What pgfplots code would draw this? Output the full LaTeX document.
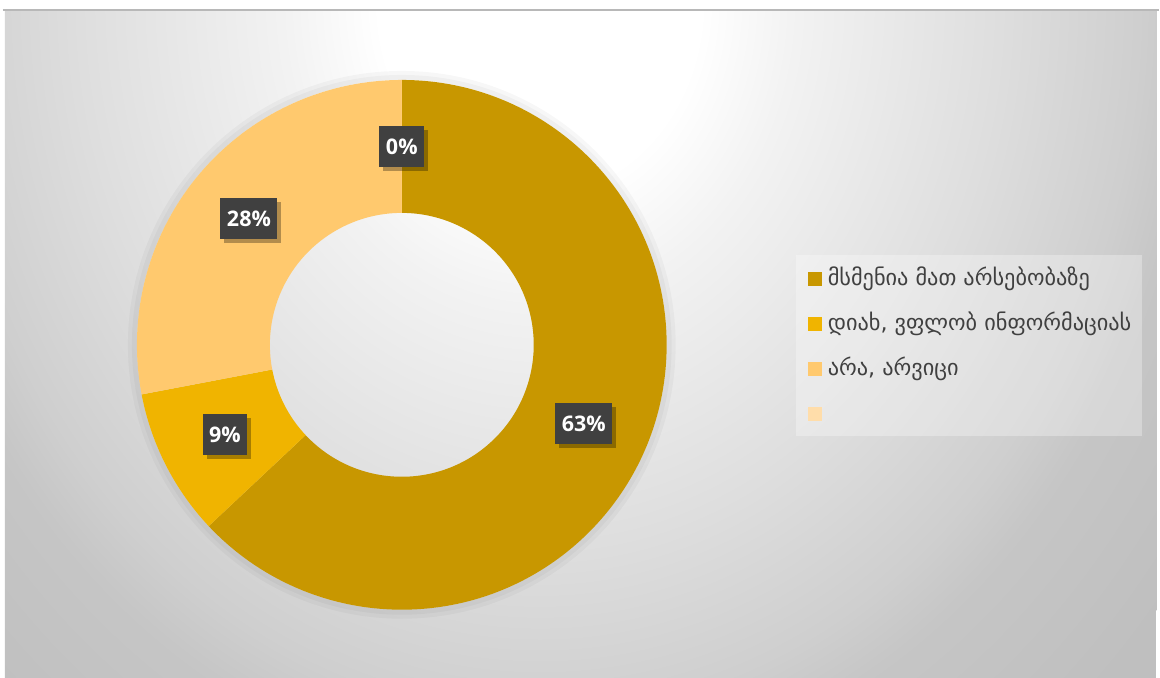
\documentclass[border=0pt]{standalone}
\usepackage{pgfplots}
\pgfplotsset{compat=1.18}
\usepackage{pgfplotstable}
\usepackage{fontspec}
\setmainfont{Open Sans}
\newfontfamily\geo{DejaVu Sans}
\usetikzlibrary{shadows}

\definecolor{sliceA}{RGB}{200,151,0}
\definecolor{sliceB}{RGB}{240,180,0}
\definecolor{sliceC}{RGB}{255,201,110}
\definecolor{sliceD}{RGB}{255,221,170}
\definecolor{lblbox}{RGB}{64,64,64}
\definecolor{legtext}{RGB}{64,64,64}

% light spot at the top, grey towards the edges
\pgfdeclareradialshading{bgshade}{\pgfpoint{0bp}{0bp}}{%
  color(0bp)=(white); color(10bp)=(white); color(16bp)=(black!5);
  color(28.75bp)=(black!13); color(37.5bp)=(black!19);
  color(41bp)=(black!22.5); color(50bp)=(black!25)}

% share of each answer, in per cent
\pgfplotstableread{
idx value
1 63
2 9
3 28
4 0
}\datatable

\begin{document}
\begin{tikzpicture}[x=1pt,y=1pt]
  % pull the values and turn them into angles (clockwise from the top)
  \pgfplotstablegetelem{0}{value}\of\datatable \pgfmathtruncatemacro{\vA}{\pgfplotsretval}
  \pgfplotstablegetelem{1}{value}\of\datatable \pgfmathtruncatemacro{\vB}{\pgfplotsretval}
  \pgfplotstablegetelem{2}{value}\of\datatable \pgfmathtruncatemacro{\vC}{\pgfplotsretval}
  \pgfplotstablegetelem{3}{value}\of\datatable \pgfmathtruncatemacro{\vD}{\pgfplotsretval}
  \pgfmathsetmacro{\aA}{90}
  \pgfmathsetmacro{\aB}{\aA-3.6*\vA}
  \pgfmathsetmacro{\aC}{\aB-3.6*\vB}
  \pgfmathsetmacro{\aD}{\aC-3.6*\vC}
  \pgfmathsetmacro{\aE}{\aD-3.6*\vD}

  % background panel
  \fill[white] (0,0) rectangle (1160,678);
  \begin{scope}
    \clip (5,0) rectangle (1157,668);
    \fill[black!25] (5,0) rectangle (1157,668);
    \begin{pgfscope}
      \pgftransformshift{\pgfpoint{540pt}{678pt}}
      \pgftransformxscale{16}
      \pgftransformyscale{19}
      \pgflowlevelsynccm
      \pgfuseshading{bgshade}
    \end{pgfscope}
  \end{scope}
  \draw[black!28, line width=1.2pt] (3,668) -- (1160,668);

  \begin{axis}[
    at={(0,0)}, anchor=south west,
    width=1160pt, height=678pt, scale only axis,
    xmin=0, xmax=1160, ymin=0, ymax=678,
    hide axis, clip=false,
  ]
    \def\cx{402}\def\cy{333}\def\ro{265}\def\ri{132}\def\rm{198.5}
    \newcommand{\ring}[3]{%
      \fill[#3] (axis cs:{\cx+\ro*cos(#1)},{\cy+\ro*sin(#1)})
        arc[start angle=#1, end angle=#2, radius=\ro]
        -- (axis cs:{\cx+\ri*cos(#2)},{\cy+\ri*sin(#2)})
        arc[start angle=#2, end angle=#1, radius=\ri] -- cycle;}
    % soft halo round the ring
    \fill[black, opacity=0.03, even odd rule] (axis cs:\cx,\cy) circle[radius=274] circle[radius=\ro];
    \fill[black, opacity=0.03, even odd rule] (axis cs:\cx,\cy) circle[radius=270] circle[radius=\ro];
    \ring{\aA}{\aB}{sliceA}
    \ring{\aB}{\aC}{sliceB}
    \ring{\aC}{\aD}{sliceC}
    \ring{\aD}{\aE}{sliceD}

    \tikzset{lbl/.style={fill=lblbox, text=white, font=\fontsize{21.5}{24}\selectfont\bfseries,
      inner xsep=6.5pt, minimum height=41pt,
      drop shadow={shadow xshift=4pt, shadow yshift=-4pt, opacity=0.3, fill=black}}}
    \node[lbl] at (axis cs:{\cx+\rm*cos((\aA+\aB)/2)},{\cy+\rm*sin((\aA+\aB)/2)}) {\vA\%};
    \node[lbl] at (axis cs:{\cx+\rm*cos((\aB+\aC)/2)},{\cy+\rm*sin((\aB+\aC)/2)}) {\vB\%};
    \node[lbl] at (axis cs:{\cx+\rm*cos((\aC+\aD)/2)},{\cy+\rm*sin((\aC+\aD)/2)}) {\vC\%};
    \node[lbl] at (axis cs:{\cx+\rm*cos((\aD+\aE)/2)},{\cy+\rm*sin((\aD+\aE)/2)}) {\vD\%};

    % legend
    \fill[white, opacity=0.3] (axis cs:796,242) rectangle (axis cs:1143,423);
    \tikzset{legt/.style={anchor=west, text=legtext, inner sep=0pt,
      font=\geo\fontsize{22.3}{26}\selectfont}}
    \fill[sliceA] (axis cs:808,392) rectangle (axis cs:822,406);
    \node[legt] at (axis cs:828,399) {მსმენია მათ არსებობაზე};
    \fill[sliceB] (axis cs:808,347) rectangle (axis cs:822,361);
    \node[legt] at (axis cs:828,354) {დიახ, ვფლობ ინფორმაციას};
    \fill[sliceC] (axis cs:808,302) rectangle (axis cs:822,316);
    \node[legt] at (axis cs:828,309) {არა, არვიცი};
    \fill[sliceD] (axis cs:808,257) rectangle (axis cs:822,271);
  \end{axis}
\end{tikzpicture}
\end{document}
